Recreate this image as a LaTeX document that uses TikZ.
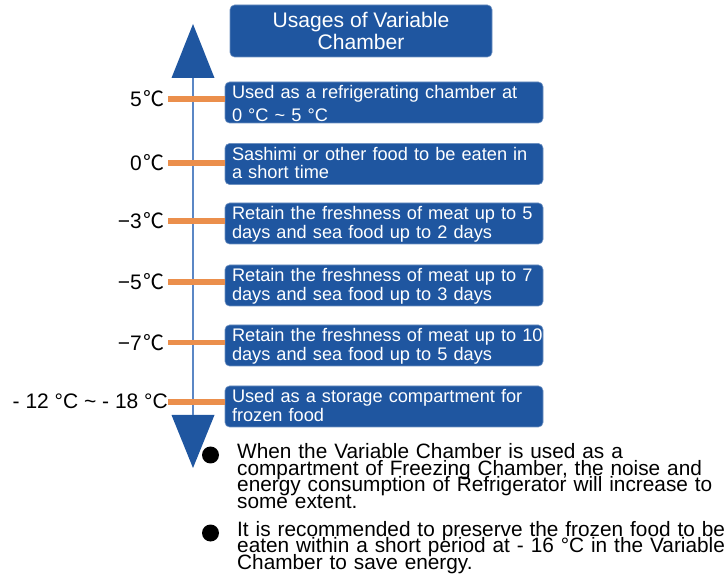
\documentclass[tikz,border=0pt]{standalone}
\usepackage{fontspec}
\setmainfont{Liberation Sans}
\newfontfamily\cjk{Noto Sans CJK SC}
\newcommand{\degc}{\hspace{2pt}{\cjk ℃}}
\newcommand{\tightlines}{\lineskiplimit -50pt\relax}
\definecolor{boxblue}{HTML}{1F56A0}
\definecolor{tickorange}{HTML}{EB8F4C}
\definecolor{axisblue}{HTML}{5B87C5}
\tikzset{
  bluebox/.style={draw=boxblue!65!white, line width=0.6pt, fill=boxblue, rounded corners=4.5pt, text=white,
    minimum width=318, minimum height=41, text width=304, align=left, inner sep=0pt,
    text height=13pt, text depth=20pt,
    font=\fontsize{18.2}{18.5}\selectfont\tightlines},
  titlebox/.style={draw=boxblue!65!white, line width=0.6pt, fill=boxblue, rounded corners=4.5pt, text=white,
    minimum width=262, minimum height=52, align=center, inner sep=0pt,
    font=\fontsize{21.1}{22.5}\selectfont\tightlines},
  templabel/.style={anchor=base east, inner sep=0pt, font=\fontsize{21}{22}\selectfont},
  tickline/.style={tickorange, line width=5.5pt},
  bullettext/.style={anchor=base west, inner sep=0pt, align=left, text width=520,
    font=\fontsize{20.8}{16.4}\selectfont\tightlines},
  dot/.style={circle, fill=black, minimum size=17, inner sep=0pt},
  arrowhead/.style={fill=boxblue}
}
\begin{document}
\begin{tikzpicture}[x=1pt,y=-1pt]
\useasboundingbox (0,0) rectangle (724,580);
% title
\node[titlebox] (title) at (361,31) {Usages of Variable\\Chamber};
% axis
\coordinate (upapex) at (193,24);
\coordinate (upbase) at (193,78);
\coordinate (downtop) at (193,415);
\coordinate (downapex) at (193,468);
\fill[arrowhead] (upapex) -- ++(-21.5,54) -- ++(43,0) -- cycle;
\fill[arrowhead] (downapex) -- ++(-21.5,-53) -- ++(43,0) -- cycle;
\draw[axisblue, line width=1.3pt] (upbase) -- (downtop);
% boxes
\node[bluebox] (b1) at (384,102.5) {Used as a refrigerating chamber at\\[4pt]0 °C \textasciitilde{} 5 °C};
\node[bluebox] (b2) at (384,164) {Sashimi or other food to be eaten in\\a short time};
\node[bluebox] (b3) at (384,223.5) {Retain the freshness of meat up to 5\\days and sea food up to 2 days};
\node[bluebox] (b4) at (384,285.5) {Retain the freshness of meat up to 7\\days and sea food up to 3 days};
\node[bluebox] (b5) at (384,345.5) {\mbox{Retain the freshness of meat up to 10}\\days and sea food up to 5 days};
\node[bluebox] (b6) at (384,406.5) {Used as a storage compartment for\\frozen food};
% labels
\node[templabel] (l1) at (165,106.5) {5\degc};
\node[templabel] (l2) at (165,170.5) {0\degc};
\node[templabel] (l3) at (165,228.5) {−3\degc};
\node[templabel] (l4) at (165,289.5) {−5\degc};
\node[templabel] (l5) at (165,350.5) {−7\degc};
\node[templabel] (l6) at (168,408.5) {- 12 °C \textasciitilde{} - 18 °C};
% ticks
\coordinate (k1) at (168,99);
\coordinate (k2) at (168,163);
\coordinate (k3) at (168,221);
\coordinate (k4) at (168,282);
\coordinate (k5) at (168,342.5);
\coordinate (k6) at (168,402);
\draw[tickline] (k1) -- (k1 -| b1.west);
\draw[tickline] (k2) -- (k2 -| b2.west);
\draw[tickline] (k3) -- (k3 -| b3.west);
\draw[tickline] (k4) -- (k4 -| b4.west);
\draw[tickline] (k5) -- (k5 -| b5.west);
\draw[tickline] (k6) -- (k6 -| b6.west);
% bullets
\node[dot] (d1) at (210.5,455) {};
\node[dot] (d2) at (210.5,533) {};
\node[bullettext] (p1) at (237,459) {When the Variable Chamber is used as a\\compartment of Freezing Chamber, the noise and\\energy consumption of Refrigerator will increase to\\some extent.};
\node[bullettext] (p2) at (237,536.5) {It is recommended to preserve the frozen food to be\\eaten within a short period at - 16 °C in the Variable\\Chamber to save energy.};
\end{tikzpicture}
\end{document}
